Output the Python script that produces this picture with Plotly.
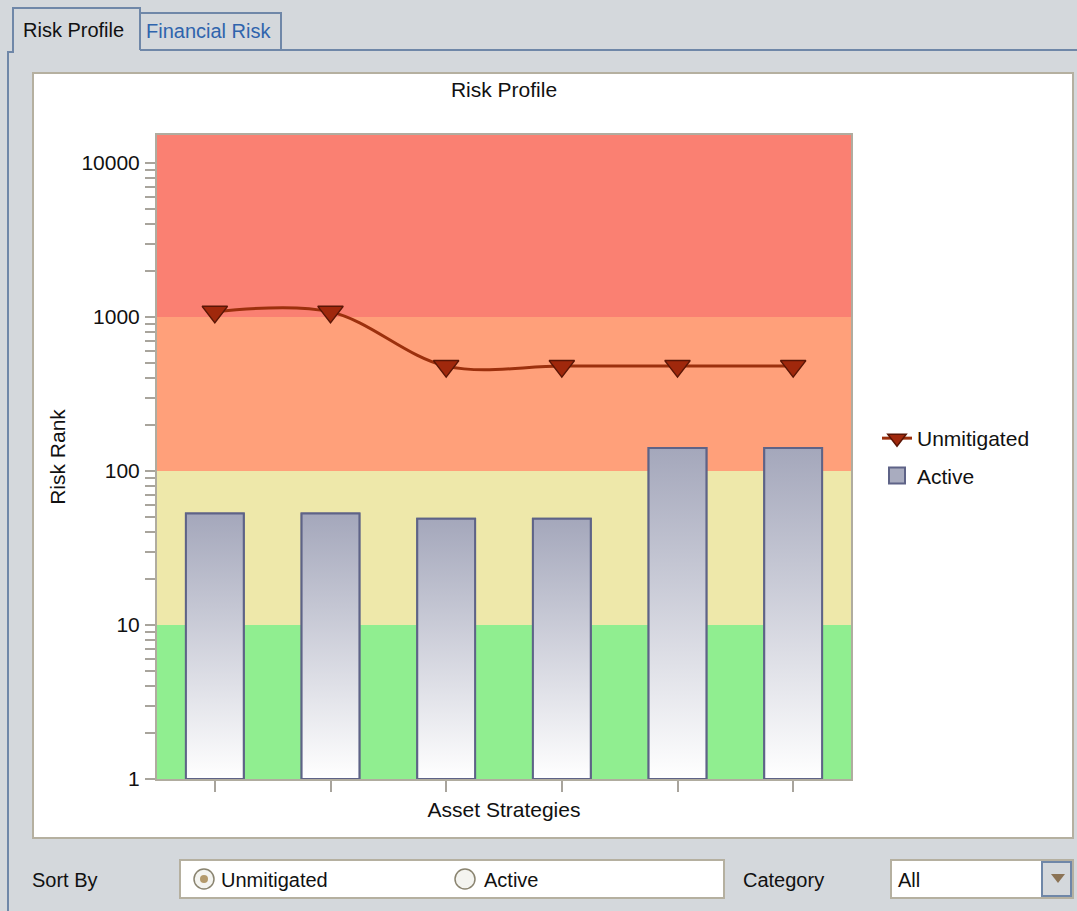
import plotly.graph_objects as go

# ---------------- data ----------------
categories = ["Strategy 1", "Strategy 2", "Strategy 3", "Strategy 4", "Strategy 5", "Strategy 6"]
unmitigated = [1080, 1080, 480, 480, 480, 480]
active = [53, 53, 49, 49, 141, 141]
y_tick_vals = [1, 10, 100, 1000, 10000]
y_tick_text = ["1", "10", "100", "1000", "10000"]
band_edges = [1, 10, 100, 1000]
band_colors = ["#90EE90", "#EEE8AA", "#FFA07A", "#FA8072"]

# ---------------- geometry helpers (page pixels -> paper) ----------------
W, H = 1077, 911
PL, PR, PT, PB = 157, 851, 135, 779
YTOP = 4.182


def xp(px):
    return (px - PL) / (PR - PL)


def yp(py):
    return (PB - py) / (PB - PT)


FONT = "Liberation Sans, Arial, sans-serif"
FS = 21
GREY_BG = "#d4d8dc"
TAB_BLUE = "#6f87a8"
BEIGE = "#b5b0a0"
BAR_FILL = "#a9acbf"
BAR_LINE = "#5e6387"

idx = list(range(len(categories)))
fig = go.Figure()

# Bars (solid base)
fig.add_trace(go.Bar(
    x=idx, y=active, width=0.5, name="Active",
    marker=dict(color=BAR_FILL, line=dict(color=BAR_LINE, width=2)),
    showlegend=False, hoverinfo="skip",
))
# Gradient fill overlays, built from the same data
for i, v in zip(idx, active):
    fig.add_trace(go.Scatter(
        x=[i - 0.25, i - 0.25, i + 0.25, i + 0.25, i - 0.25],
        y=[1, v, v, 1, 1],
        mode="lines", fill="toself",
        fillgradient=dict(type="vertical", colorscale=[[0, "#ffffff"], [1, "#a4a7bb"]]),
        line=dict(color=BAR_LINE, width=2),
        showlegend=False, hoverinfo="skip",
    ))

fig.add_trace(go.Scatter(
    x=idx, y=unmitigated, name="Unmitigated", mode="lines+markers",
    line=dict(color="#9c300d", width=3, shape="spline"),
    marker=dict(symbol="triangle-down", size=22, color="#a0280c",
                line=dict(color="#5a1505", width=1.5)),
    legendrank=1, legendgroup="a",
))
# legend entry for the bars (square swatch)
fig.add_trace(go.Scatter(
    x=[None], y=[None], name="Active", mode="markers",
    marker=dict(symbol="square", size=16, color=BAR_FILL, line=dict(color=BAR_LINE, width=2)),
    legendrank=2, legendgroup="b", hoverinfo="skip",
))

shapes = []
# white chart panel
shapes.append(dict(type="rect", xref="paper", yref="paper", layer="below",
                   x0=xp(33), x1=xp(1073), y0=yp(838), y1=yp(73),
                   fillcolor="white", line=dict(color=BEIGE, width=2)))
# risk bands
tops = band_edges[1:] + [10 ** YTOP]
for lo, hi, c in zip(band_edges, tops, band_colors):
    shapes.append(dict(type="rect", xref="paper", yref="y", layer="below",
                       x0=0, x1=1, y0=lo, y1=hi, fillcolor=c, line=dict(width=0)))

# tabs
shapes.append(dict(type="path", xref="paper", yref="paper",
                   path=f"M {xp(8)},{yp(911)} L {xp(8)},{yp(52)} L {xp(13)},{yp(52)} L {xp(13)},{yp(8)} "
                        f"L {xp(140)},{yp(8)} L {xp(140)},{yp(50)}",
                   line=dict(color=TAB_BLUE, width=2)))
shapes.append(dict(type="path", xref="paper", yref="paper",
                   path=f"M {xp(140)},{yp(13)} L {xp(281)},{yp(13)} L {xp(281)},{yp(49)}",
                   line=dict(color=TAB_BLUE, width=2)))
shapes.append(dict(type="line", xref="paper", yref="paper",
                   x0=xp(140), x1=xp(1077), y0=yp(50), y1=yp(50),
                   line=dict(color=TAB_BLUE, width=2)))

# bottom controls
shapes.append(dict(type="rect", xref="paper", yref="paper",
                   x0=xp(180), x1=xp(724), y0=yp(898), y1=yp(860),
                   fillcolor="white", line=dict(color=BEIGE, width=2)))
for cx, sel in [(204, True), (465, False)]:
    r = 10
    shapes.append(dict(type="circle", xref="paper", yref="paper",
                       x0=xp(cx - r), x1=xp(cx + r), y0=yp(879 + r), y1=yp(879 - r),
                       fillcolor="#f4f4f0", line=dict(color="#8a8470", width=1.5)))
    if sel:
        r2 = 4
        shapes.append(dict(type="circle", xref="paper", yref="paper",
                           x0=xp(cx - r2), x1=xp(cx + r2), y0=yp(879 + r2), y1=yp(879 - r2),
                           fillcolor="#b49a6c", line=dict(width=0)))
shapes.append(dict(type="rect", xref="paper", yref="paper",
                   x0=xp(891), x1=xp(1073), y0=yp(898), y1=yp(860),
                   fillcolor="white", line=dict(color=BEIGE, width=2)))
shapes.append(dict(type="rect", xref="paper", yref="paper",
                   x0=xp(1042), x1=xp(1071), y0=yp(896), y1=yp(862),
                   fillcolor=GREY_BG, line=dict(color=TAB_BLUE, width=2)))
shapes.append(dict(type="path", xref="paper", yref="paper",
                   path=f"M {xp(1051)},{yp(874)} L {xp(1065)},{yp(874)} L {xp(1058)},{yp(883)} Z",
                   fillcolor="#8b7355", line=dict(width=0)))

annotations = []


def label(text, px, py, color="#111111", size=20, anchor="left"):
    annotations.append(dict(text=text, x=xp(px), y=yp(py), xref="paper", yref="paper",
                            xanchor=anchor, yanchor="middle", showarrow=False,
                            font=dict(family=FONT, size=size, color=color)))


label("Risk Profile", 21, 30)
label("Financial Risk", 144, 31, color="#2f64ad")
label("Sort By", 30, 880)
label("Unmitigated", 219, 880)
label("Active", 482, 880)
label("Category", 741, 880)
label("All", 896, 880)

fig.update_layout(
    width=W, height=H, autosize=False,
    margin=dict(l=PL, r=W - PR, t=PT, b=H - PB, pad=0),
    paper_bgcolor=GREY_BG, plot_bgcolor="white",
    font=dict(family=FONT, size=FS, color="#111111"),
    title=dict(text="Risk Profile", x=0.5, xref="paper", xanchor="center",
               y=1 - 90 / H, yref="container", yanchor="middle",
               font=dict(size=FS, family=FONT, color="#111111")),
    showlegend=True,
    legend=dict(x=xp(877), y=yp(418), xanchor="left", yanchor="top",
                bgcolor="rgba(0,0,0,0)", tracegroupgap=7,
                font=dict(size=FS, family=FONT, color="#111111")),
    shapes=shapes, annotations=annotations,
)
fig.update_xaxes(
    range=[-0.5, len(categories) - 0.5],
    tickvals=idx, ticktext=categories, showticklabels=False,
    ticks="outside", ticklen=11, tickcolor="#a8a49c", tickwidth=1.5,
    showline=True, linecolor="#b0ac9f", linewidth=2, mirror=True,
    showgrid=False, zeroline=False,
    title=dict(text="Asset Strategies", standoff=11, font=dict(size=FS, family=FONT)),
)
fig.update_yaxes(
    type="log", range=[0, YTOP],
    tickvals=y_tick_vals, ticktext=y_tick_text,
    ticks="outside", ticklen=10, tickcolor="#a8a49c", tickwidth=1.5,
    minor=dict(ticks="outside", ticklen=10, tickcolor="#a8a49c", tickwidth=1.5,
               dtick="D1", showgrid=False),
    ticklabelstandoff=1,
    showline=True, linecolor="#b0ac9f", linewidth=2, mirror=True,
    showgrid=False, zeroline=False,
    title=dict(text="Risk Rank", standoff=10, font=dict(size=FS, family=FONT)),
)

fig.write_html("out.html", config={"displayModeBar": False},
               post_script="document.body.style.margin='0';")
